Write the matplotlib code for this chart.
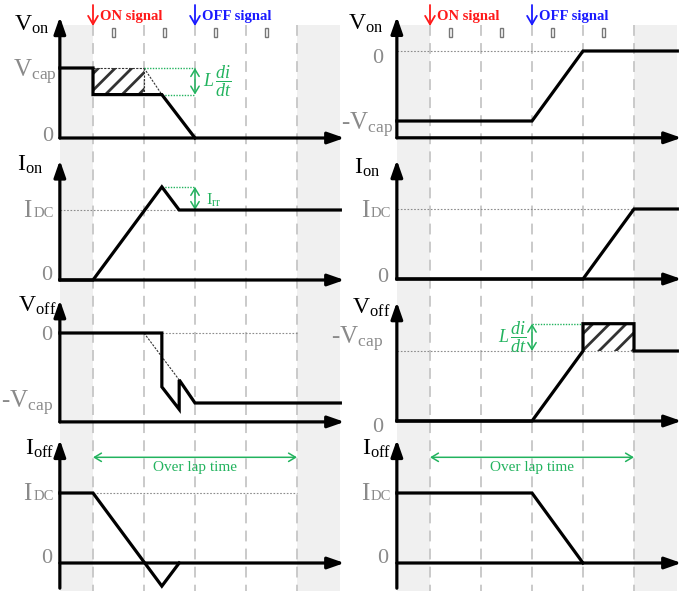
import matplotlib.pyplot as plt

plt.rcParams['font.family'] = ['Liberation Serif', 'DejaVu Serif']
plt.rcParams['mathtext.fontset'] = 'custom'
plt.rcParams['mathtext.rm'] = 'Liberation Serif'
plt.rcParams['mathtext.it'] = 'Liberation Serif:italic'
plt.rcParams['mathtext.bf'] = 'Liberation Serif:bold'
plt.rcParams['hatch.linewidth'] = 2.0

# time in switching intervals, dashed markers at t = 0..4
grid_t = [0, 1, 2, 3, 4]
shade_spans = [(-0.65, 0), (4, 4.85)]
marker_t = [0.41, 1.41, 2.41, 3.41]

# left column: turn-on transient (levels normalised to Vcap / IDC)
von_L_t = [-0.65, 0, 0, 1.35, 2]
von_L_v = [1, 1, 0.62, 0.62, 0]
ion_L_t = [-0.65, 0, 1.35, 1.69, 4.85]
ion_L_v = [0, 0, 1.33, 1, 1]
voff_L_t = [-0.65, 1.35, 1.35, 1.69, 1.69, 2, 4.85]
voff_L_v = [0, 0, -0.77, -1.09, -0.67, -1, -1]
ioff_L_t = [-0.65, 0, 1.35, 1.69]
ioff_L_v = [1, 1, -0.33, 0]

# right column: turn-off transient
von_R_t = [-0.65, 2, 3, 4.85]
von_R_v = [-1, -1, 0, 0]
ion_R_t = [-0.65, 3, 4, 4.85]
ion_R_v = [0, 0, 1, 1]
voff_R_t = [-0.65, 2, 3, 3, 4, 4, 4.85]
voff_R_v = [0, 0, 1, 1.39, 1.39, 1, 1]
ioff_R_t = [-0.65, 2, 3]
ioff_R_v = [1, 1, 0]

waves = [[(von_L_t, von_L_v), (ion_L_t, ion_L_v), (voff_L_t, voff_L_v), (ioff_L_t, ioff_L_v)],
         [(von_R_t, von_R_v), (ion_R_t, ion_R_v), (voff_R_t, voff_R_v), (ioff_R_t, ioff_R_v)]]

titles = [[(r'V$_{\mathrm{on}}$', -0.86, 1.54), (r'I$_{\mathrm{on}}$', -0.98, 1.56),
           (r'V$_{\mathrm{off}}$', -0.71, 0.30), (r'I$_{\mathrm{off}}$', -0.75, 1.54)],
          [(r'V$_{\mathrm{on}}$', -0.92, 0.30), (r'I$_{\mathrm{on}}$', -0.98, 1.50),
           (r'V$_{\mathrm{off}}$', -0.78, 1.54), (r'I$_{\mathrm{off}}$', -0.75, 1.54)]]

levels = [[[('Vcap', -0.71, 0.86), ('0', -0.78, -0.04)],
           [('IDC', -0.77, 0.90), ('0', -0.80, 0.0)],
           [('0', -0.80, -0.10), ('-Vcap', -0.78, -1.07)],
           [('IDC', -0.77, 0.90), ('0', -0.80, 0.0)]],
          [[('0', -0.92, -0.17), ('-Vcap', -0.73, -1.14)],
           [('IDC', -0.76, 0.89), ('0', -0.82, -0.04)],
           [('-Vcap', -0.92, 1.09), ('0', -0.92, -0.16)],
           [('IDC', -0.76, 0.90), ('0', -0.82, 0.0)]]]

W, H = 687, 591
PX_T = 51
PX_V = 70
XLIM = (-1.04, 5.1)
col_x0 = [93, 430]
rows = [(0, 145), (145, 290), (290, 430), (430, 591)]
base_px = [[138, 280, 333, 563], [51, 279, 421, 563]]
xaxis_lv = [[0, 0, -1.27, 0], [-1.24, 0, 0, 0]]
yaxis_top = [[1.73, 1.71, 0.47, 1.76], [0.49, 1.70, 1.70, 1.76]]
yaxis_bot = [[0, 0, -1.27, -0.36], [-1.24, 0, 0, -0.36]]

GREEN = '#22b35e'
GREY = '#8a8a8a'
LW = 2.3


def col_rect(c, top, bot):
    left = (col_x0[c] + XLIM[0] * PX_T) / W
    width = (XLIM[1] - XLIM[0]) * PX_T / W
    return [left, 1 - bot / H, width, (bot - top) / H]


def arrow(ax, p0, p1, color='k', lw=LW, style='-|>,head_length=1.0,head_width=0.35', ms=10):
    ax.annotate('', xy=p1, xytext=p0, annotation_clip=False,
                arrowprops=dict(arrowstyle=style, color=color, lw=lw,
                                shrinkA=0, shrinkB=0, mutation_scale=ms))


def garrow(ax, p0, p1):
    arrow(ax, p0, p1, color=GREEN, lw=1.1,
          style='<->,head_length=0.5,head_width=0.3', ms=10)


def level_label(ax, text, t, y):
    if text == 'IDC':
        ax.text(t, y, 'DC', ha='right', va='baseline', fontsize=10.5, color=GREY)
        ax.text(t - 0.43, y, 'I', ha='right', va='baseline', fontsize=18, color=GREY)
    elif text == '0':
        ax.text(t, y, '0', ha='right', va='baseline', fontsize=16, color=GREY)
    else:
        s = text.replace('Vcap', r'V$_{\mathrm{cap}}$')
        ax.text(t, y, s, ha='right', va='baseline', fontsize=18, color=GREY)


fig = plt.figure(figsize=(W / 100, H / 100), dpi=100)

panels = [[None] * 4, [None] * 4]
for c in range(2):
    bg = fig.add_axes(col_rect(c, 0, H))
    bg.set_xlim(XLIM)
    bg.set_ylim(H, 0)
    bg.axis('off')
    for a, b in shade_spans:
        bg.fill_between([a, b], 25, H, color='#f0f0f0', lw=0, zorder=0)
    bg.vlines(grid_t, 25, H, colors='#c6c6c6', linestyles=(0, (6, 4)), lw=1.3, zorder=1)
    for t in marker_t:
        bg.add_patch(plt.Rectangle((t - 0.03, 28), 0.06, 9, fill=False,
                                   edgecolor='#777777', lw=1.0))
    # gate signal markers
    for t, txt, colr in [(0, 'ON signal', '#ff1a1a'), (2, 'OFF signal', '#1a1aff')]:
        arrow(bg, (t, 5), (t, 26), color=colr, lw=1.3,
              style='->,head_length=0.6,head_width=0.35', ms=10)
        bg.text(t + 0.13, 20, txt, color=colr, fontsize=10.5, fontweight='bold',
                ha='left', va='baseline')

    for r in range(4):
        top, bot = rows[r]
        y0 = base_px[c][r]
        ax = fig.add_axes(col_rect(c, top, bot))
        ax.set_xlim(XLIM)
        ax.set_ylim((y0 - bot) / PX_V, (y0 - top) / PX_V)
        ax.axis('off')
        ax.patch.set_alpha(0)
        panels[c][r] = ax

        xl = xaxis_lv[c][r]
        arrow(ax, (-0.65, xl), (4.93, xl))
        arrow(ax, (-0.65, yaxis_bot[c][r]), (-0.65, yaxis_top[c][r]))

        t, v = waves[c][r]
        ax.plot(t, v, color='k', lw=LW, solid_joinstyle='miter', zorder=5)

        txt, tx, ty = titles[c][r]
        ax.text(tx, ty, txt, ha='right', va='baseline', fontsize=17, color='k')
        for s, lx, ly in levels[c][r]:
            level_label(ax, s, lx, ly)

dot_grey = dict(color='#8c8c8c', lw=0.8, ls=(0, (1.5, 1.5)))
dot_green = dict(color=GREEN, lw=1.0, ls=(0, (1, 1)))
dot_black = dict(color='#333333', lw=0.8, ls=(0, (2, 1.2)))
ldidt = r'$L\,\dfrac{di}{dt}$'

# left Von: stored-energy area and inductive drop
ax = panels[0][0]
ax.fill_between([0, 1], 0.62, 1, facecolor='none', edgecolor='#333333', hatch='//', lw=0)
ax.plot([0, 1], [1, 1], **dot_black)
ax.plot([1, 1], [0.62, 1], **dot_black)
ax.plot([1, 1.35], [1, 0.62], **dot_black)
ax.plot([1, 2], [1, 1], **dot_green)
ax.plot([1.35, 2], [0.62, 0.62], **dot_green)
garrow(ax, (2, 0.62), (2, 1))
ax.text(2.15, 0.81, ldidt, color=GREEN, fontsize=13, ha='left', va='center')

# left Ion: reverse recovery overshoot
ax = panels[0][1]
ax.plot([-0.65, 1.69], [1, 1], **dot_grey)
ax.plot([1.35, 2], [1.33, 1.33], **dot_green)
garrow(ax, (2, 1), (2, 1.33))
ax.text(2.22, 1.14, r'I$_{\mathrm{rr}}$', color=GREEN, fontsize=12, ha='left', va='center')

# left Voff
ax = panels[0][2]
ax.plot([1.35, 4], [0, 0], **dot_grey)
ax.plot([1, 1.69], [0, -0.67], **dot_black)

# left Ioff
ax = panels[0][3]
ax.plot([0, 4], [1, 1], **dot_grey)
garrow(ax, (0, 1.51), (4, 1.51))
ax.text(2, 1.37, 'Over lap time', color=GREEN, fontsize=11, ha='center', va='center')

# right Von
ax = panels[1][0]
ax.plot([-0.65, 3], [0, 0], **dot_grey)

# right Ion
ax = panels[1][1]
ax.plot([-0.65, 4], [1, 1], **dot_grey)

# right Voff: overvoltage area
ax = panels[1][2]
ax.fill_between([3, 4], 1, 1.39, facecolor='none', edgecolor='#333333', hatch='//', lw=0)
ax.plot([-0.65, 4], [1, 1], **dot_grey)
ax.plot([2, 3], [1.39, 1.39], **dot_green)
garrow(ax, (2, 1), (2, 1.39))
ax.text(1.9, 1.2, ldidt, color=GREEN, fontsize=13, ha='right', va='center')

# right Ioff
ax = panels[1][3]
garrow(ax, (0, 1.51), (4, 1.51))
ax.text(2, 1.37, 'Over lap time', color=GREEN, fontsize=11, ha='center', va='center')

fig.savefig('out.png', dpi=100)
